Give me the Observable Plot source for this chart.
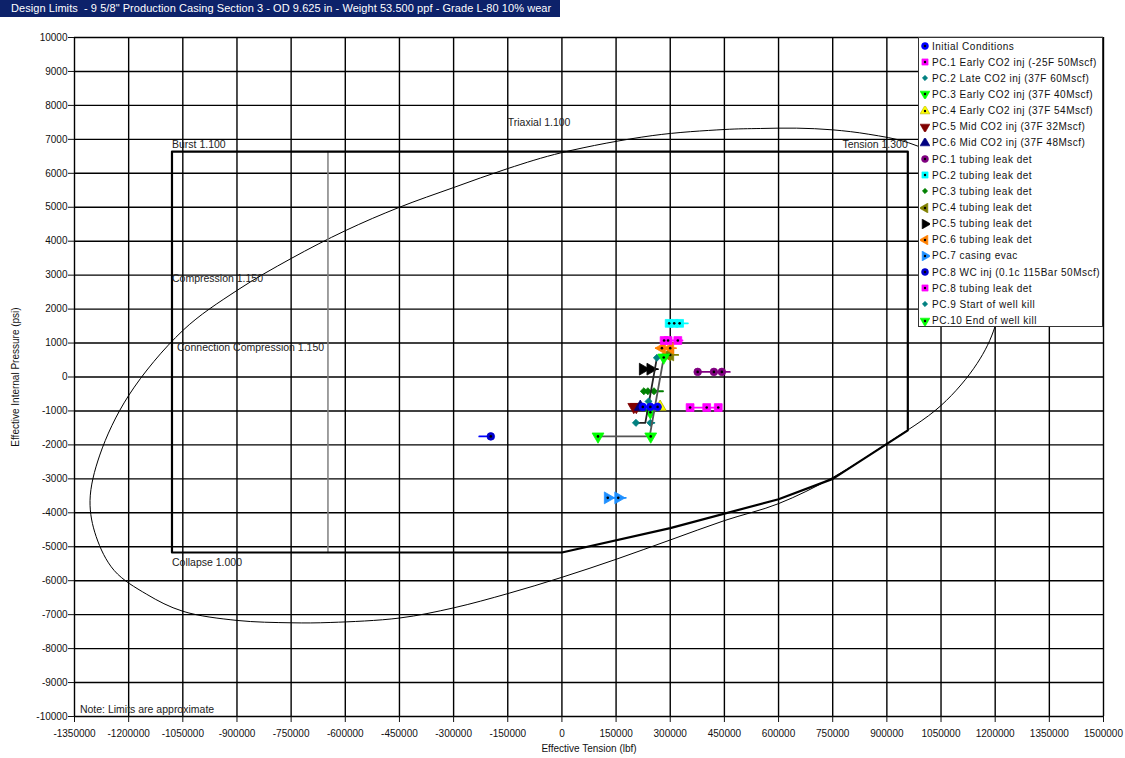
<!DOCTYPE html>
<html>
<head>
<meta charset="utf-8">
<script src="https://cdn.jsdelivr.net/npm/d3@7"></script>
<script src="https://cdn.jsdelivr.net/npm/@observablehq/plot@0.6"></script>
<style>
  html, body { margin: 0; padding: 0; background: #fff; }
  body { width: 1125px; height: 758px; position: relative; overflow: hidden; font-family: "Liberation Sans", Arial, sans-serif; }
  #title { height: 17px; width: 549px; background: #0d226a; color: #fff; font-size: 11px; letter-spacing: 0.06px; line-height: 17px; padding-left: 11px; white-space: pre; }
  #legend { position: absolute; left: 918px; top: 37px; width: 185px; height: 290px; background: #fff; border: 1px solid #333; box-sizing: border-box; }
  .li { position: absolute; left: 0; height: 16px; display: flex; align-items: center; font-size: 10px; letter-spacing: 0.5px; color: #111; white-space: pre; }
  .li svg { margin-left: 1px; margin-right: 2px; }
</style>
</head>
<body>
<div id="title"></div>
<div id="chart"></div>
<div id="legend"></div>
<script>
// ---------- text ----------
const titleText = 'Design Limits  - 9 5/8" Production Casing Section 3 - OD 9.625 in - Weight 53.500 ppf - Grade L-80 10% wear';
const xLabel = "Effective Tension (lbf)";
const yLabel = "Effective Internal Pressure (psi)";

// ---------- axes ----------
const xTicks = d3.range(-1350000, 1500001, 150000);
const yTicks = d3.range(-10000, 10001, 1000);

// ---------- design limit envelope ----------
const boxT = [-1080000, -1080000, 958000, 958000, 750000, 600000, 300000, 0, -1080000];
const boxP = [-5170, 6640, 6640, -1570, -3000, -3600, -4450, -5170, -5170];
const connT = [-648000, -648000];
const connP = [6640, -5170];

// ---------- triaxial ellipse ----------
const triT = [550000, 450000, 250000, 0, -150000, -300000, -450000, -600000, -750000, -900000, -1050000, -1200000, -1280000, -1307000, -1290000, -1240000, -1150000, -1050000, -900000, -750000, -640000, -450000, -300000, -150000, 0, 150000, 300000, 450000, 600000, 750000, 900000, 1050000, 1150000, 1200000, 1225000, 1215000, 1170000, 1080000, 960000, 850000, 750000, 650000];
const triP = [7320, 7290, 7110, 6610, 6140, 5580, 5000, 4310, 3490, 2550, 1370, -545, -2300, -3640, -4700, -5700, -6400, -6900, -7170, -7240, -7230, -7100, -6800, -6380, -5900, -5370, -4800, -4230, -3730, -2960, -1960, -840, 400, 1500, 3000, 4300, 5400, 6300, 6900, 7150, 7280, 7330];

// ---------- limit labels ----------
const labelText = ["Burst 1.100", "Triaxial 1.100", "Compression 1.150", "Connection Compression 1.150", "Collapse 1.000", "Note: Limits are approximate"];
const labelT = [-1080000, -150000, -1080000, -1066000, -1080000, -1335000];
const labelP = [6850, 7500, 2900, 870, -5460, -9790];
const endLabelText = ["Tension 1.300"];
const endLabelT = [958000];
const endLabelP = [6850];

// ---------- load cases ----------
const names = [
  "Initial Conditions",
  "PC.1 Early CO2 inj (-25F 50Mscf)",
  "PC.2 Late CO2 inj (37F 60Mscf)",
  "PC.3 Early CO2 inj (37F 40Mscf)",
  "PC.4 Early CO2 inj (37F 54Mscf)",
  "PC.5 Mid CO2 inj (37F 32Mscf)",
  "PC.6 Mid CO2 inj (37F 48Mscf)",
  "PC.1 tubing leak det",
  "PC.2 tubing leak det",
  "PC.3 tubing leak det",
  "PC.4 tubing leak det",
  "PC.5 tubing leak det",
  "PC.6 tubing leak det",
  "PC.7 casing evac",
  "PC.8 WC inj (0.1c 115Bar 50Mscf)",
  "PC.8 tubing leak det",
  "PC.9 Start of well kill",
  "PC.10 End of well kill"
];
// line path of each load case
const lineT = [
  [224000, 265000], [355000, 433000], [245000, 256000], [245000, 250000], [265000, 280000],
  [199000, 206000], [217000, 222000], [376000, 465000], [297000, 349000], [227000, 280000],
  [292000, 322000], [224000, 266000], [260000, 316000], [127000, 177000], [-229000, -197000],
  [283000, 334000], [205000, 231000, 263000], [100000, 243000, 282000]
];
const lineP = [
  [-880, -880], [-900, -900], [-1350, -1350], [-1040, -1040], [-880, -880],
  [-880, -880], [-880, -880], [150, 150], [1580, 1580], [-420, -420],
  [650, 650], [230, 230], [850, 850], [-3560, -3560], [-1750, -1750],
  [1075, 1075], [-1350, -1350, 565], [-1750, -1750, 575]
];
// marker points of each load case
const markT = [
  [224000, 245000, 265000], [355000, 401000, 433000], [245000], [245000], [272000],
  [199000, 206000], [217000], [376000, 421000, 443000], [297000, 311000, 326000], [227000, 238000, 255000],
  [292000, 300000], [224000, 245000], [277000, 300000], [127000, 156000], [-197000],
  [283000, 294000, 321000], [205000, 240000, 263000], [100000, 246000, 282000]
];
const markP = [
  [-880, -880, -880], [-900, -900, -900], [-1350], [-1040], [-880],
  [-880, -880], [-880], [150, 150, 150], [1580, 1580, 1580], [-420, -420, -420],
  [650, 650], [230, 230], [850, 850], [-3560, -3560], [-1750],
  [1075, 1075, 1075], [-1350, -720, 565], [-1750, -1750, 575]
];

// ---------- styles ----------
const colors = ["#0000ff", "#ff00ff", "#008080", "#00ff00", "#ffff00", "#800000", "#000080", "#800080", "#00ffff", "#008000", "#808000", "#000000", "#ff8000", "#1e8fff", "#0000cc", "#ff00ff", "#008080", "#00ff00"];
const lineColors = ["#0000ff", "#ff00ff", "#008080", "#00cc00", "#e0e000", "#800000", "#000080", "#800080", "#00ffff", "#008000", "#808000", "#000000", "#ff8000", "#1e8fff", "#0000ff", "#ff00ff", "#222222", "#555555"];
const symbols = ["circle", "square", "diamond2", "triangle", "triangle", "triangle", "triangle", "circle", "square", "diamond2", "triangle", "triangle", "triangle", "triangle", "circle", "square", "diamond2", "triangle"];
const rotations = [0, 0, 0, 180, 0, 180, 0, 0, 0, 0, -90, 90, -90, 90, 0, 0, 0, 180];
const centers = [true, true, false, true, true, false, false, true, true, false, true, false, true, true, true, true, false, true];
const sizes = [3.8, 4.4, 3.2, 4.4, 4.4, 4.4, 4.4, 3.8, 4.4, 3.2, 4.4, 4.4, 4.4, 4.4, 3.8, 4.4, 3.2, 4.4];

document.getElementById("title").textContent = titleText;

const envRows = boxT.map((t, i) => ({t, p: boxP[i]}));
const connRows = connT.map((t, i) => ({t, p: connP[i]}));
const triRows = triT.map((t, i) => ({t, p: triP[i]}));
const labRows = labelText.map((s, i) => ({s, t: labelT[i], p: labelP[i]}));
const endLabRows = endLabelText.map((s, i) => ({s, t: endLabelT[i], p: endLabelP[i]}));

const fmt = d => String(d);
const marks = [
  Plot.gridX(xTicks, {stroke: "#000", strokeOpacity: 1, strokeWidth: 1.4}),
  Plot.gridY(yTicks, {stroke: "#000", strokeOpacity: 1, strokeWidth: 1.4}),
  Plot.axisX(xTicks, {tickFormat: fmt, tickSize: 6, tickPadding: 7, fontSize: 10, label: xLabel, labelAnchor: "center", labelArrow: "none", labelOffset: 35}),
  Plot.axisY(yTicks, {tickFormat: fmt, tickSize: 6, tickPadding: 1, fontSize: 10, label: yLabel, labelAnchor: "center", labelArrow: "none", labelOffset: 63}),
  Plot.line(triRows, {x: "t", y: "p", curve: "catmull-rom-closed", stroke: "#000", strokeWidth: 1}),
  Plot.line(connRows, {x: "t", y: "p", stroke: "#808080", strokeWidth: 1.5}),
  Plot.line(envRows, {x: "t", y: "p", stroke: "#000", strokeWidth: 2.2}),
  Plot.text(labRows, {x: "t", y: "p", text: "s", textAnchor: "start", fontSize: 10.5, fill: "#222"}),
  Plot.text(endLabRows, {x: "t", y: "p", text: "s", textAnchor: "end", fontSize: 10.5, fill: "#222"})
];

const order = d3.range(1, names.length).concat([0]);
for (const i of order) {
  const lrows = lineT[i].map((t, j) => ({t, p: lineP[i][j]}));
  const mrows = markT[i].map((t, j) => ({t, p: markP[i][j]}));
  marks.push(Plot.line(lrows, {x: "t", y: "p", stroke: lineColors[i], strokeWidth: 1.8}));
  marks.push(Plot.dot(mrows, {x: "t", y: "p", symbol: symbols[i], r: sizes[i], rotate: rotations[i], fill: colors[i], stroke: colors[i] === "#ffff00" ? "#b0b000" : colors[i], strokeWidth: 0.8}));
  if (centers[i]) marks.push(Plot.dot(mrows, {x: "t", y: "p", r: 1.3, fill: "#000"}));
}

const chart = Plot.plot({
  width: 1125,
  height: 741,
  marginLeft: 74,
  marginRight: 22,
  marginTop: 20,
  marginBottom: 42,
  x: {domain: [-1350000, 1500000]},
  y: {domain: [-10000, 10000]},
  style: {fontFamily: "'Liberation Sans', Arial, sans-serif", fontSize: "10px", color: "#111", background: "#fff", overflow: "visible"},
  marks
});
document.getElementById("chart").appendChild(chart);

// ---------- legend ----------
const legend = document.getElementById("legend");
names.forEach((n, i) => {
  const row = document.createElement("div");
  row.className = "li";
  row.style.top = (i * 16.15) + "px";
  const svg = d3.create("svg").attr("width", 10).attr("height", 10);
  const g = svg.append("g").attr("transform", `translate(5,5) rotate(${rotations[i]})`);
  const typeMap = {circle: d3.symbolCircle, square: d3.symbolSquare, triangle: d3.symbolTriangle, diamond2: d3.symbolSquare};
  let sz = symbols[i] === "diamond2" ? 14 : (symbols[i] === "triangle" ? 42 : 38);
  const gg = symbols[i] === "diamond2" ? g.append("g").attr("transform", "rotate(45)") : g;
  gg.append("path").attr("d", d3.symbol(typeMap[symbols[i]], sz)()).attr("fill", colors[i]).attr("stroke", colors[i] === "#ffff00" ? "#b0b000" : colors[i]).attr("stroke-width", 0.6);
  if (centers[i]) g.append("circle").attr("r", 1.2).attr("fill", "#000");
  row.appendChild(svg.node());
  const span = document.createElement("span");
  span.textContent = n;
  row.appendChild(span);
  legend.appendChild(row);
});
</script>
</body>
</html>
